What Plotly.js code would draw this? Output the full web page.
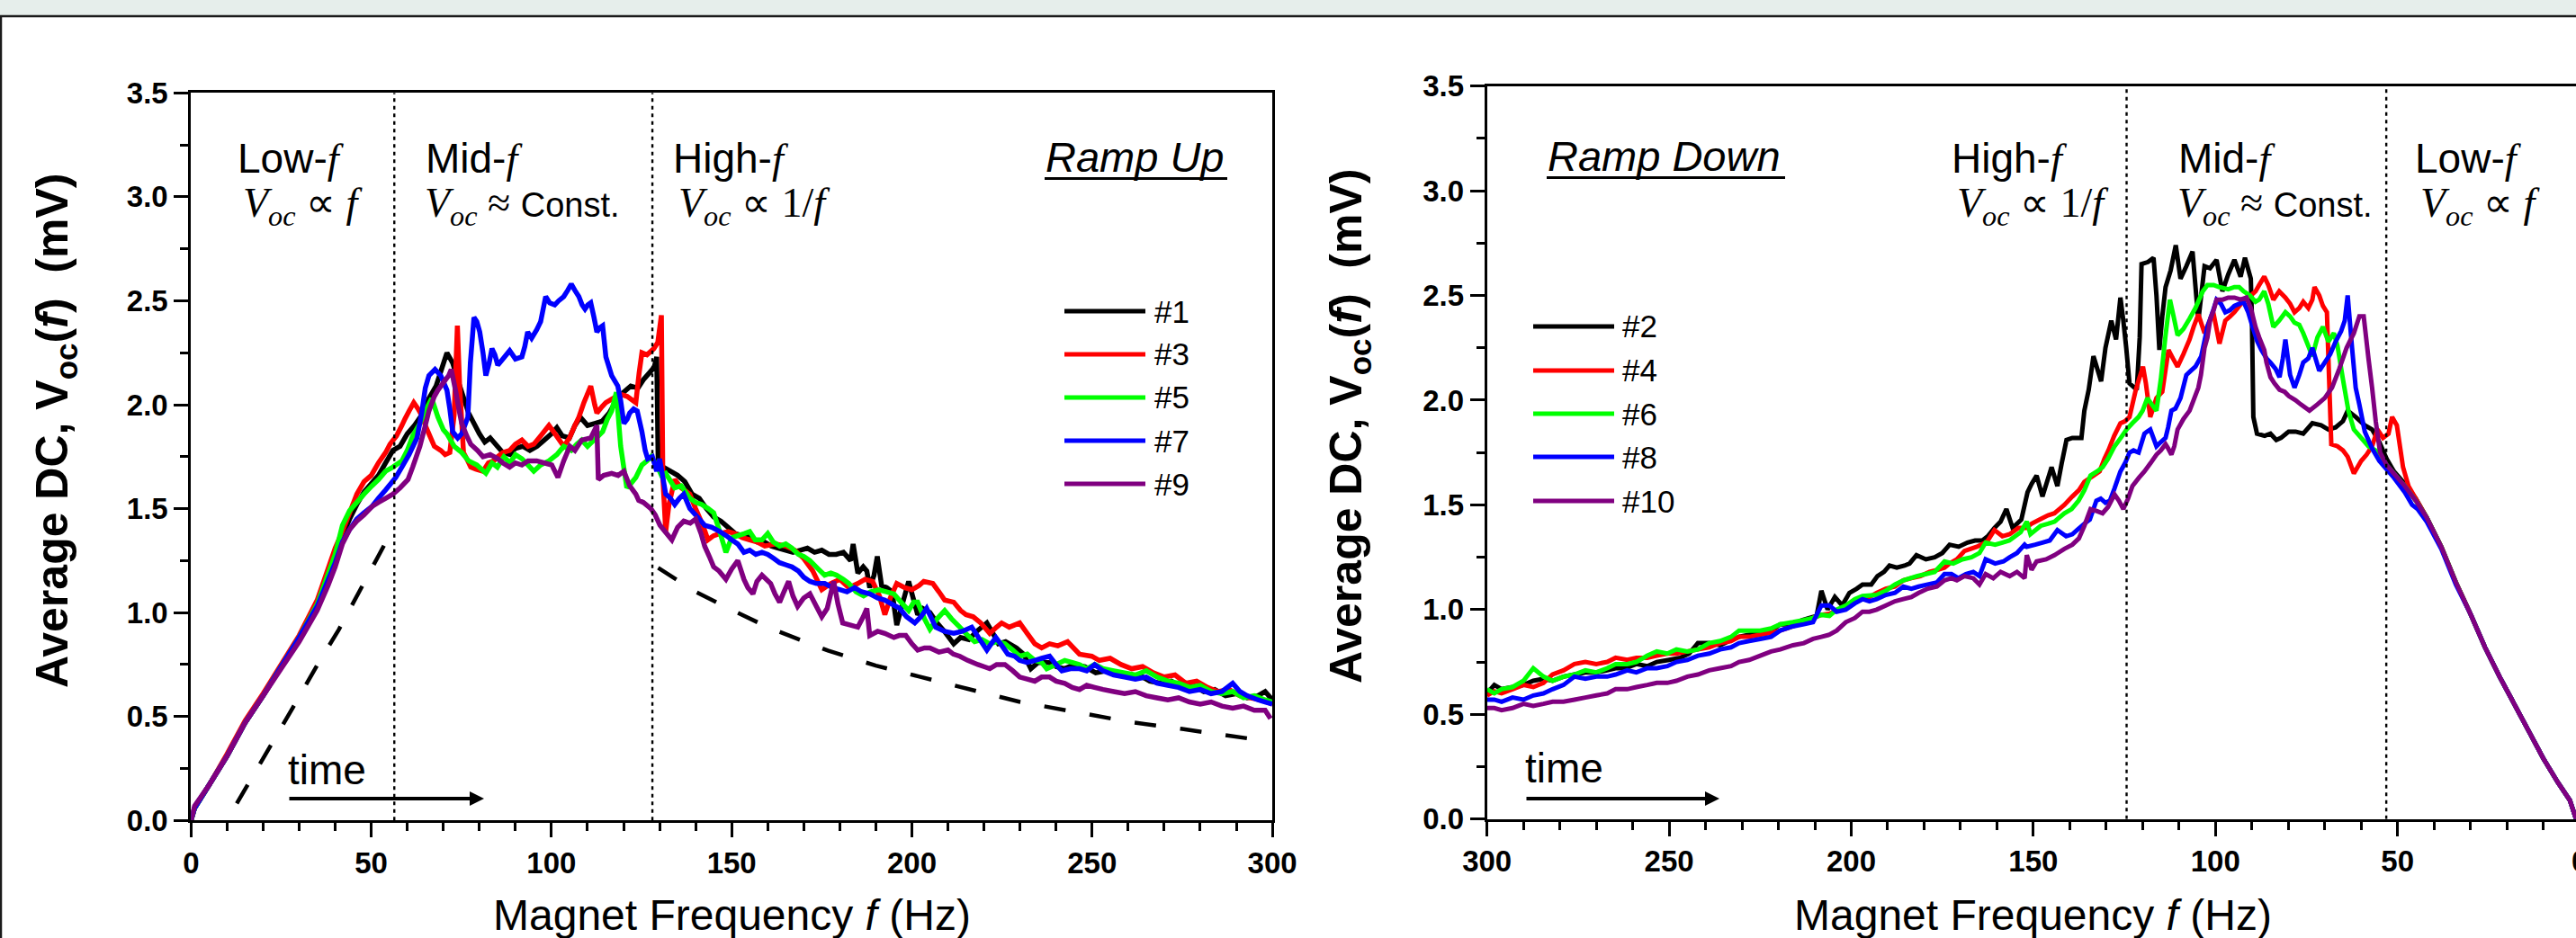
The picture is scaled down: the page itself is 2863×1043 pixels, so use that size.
<!DOCTYPE html>
<html><head><meta charset="utf-8">
<script src="https://cdn.plot.ly/plotly-3.0.1.min.js"></script>
<style>html,body{margin:0;padding:0;background:#fff;overflow:hidden;width:2863px;height:1043px}#chart{width:2880px;height:1043px}</style>
</head><body><div id="chart"></div>
<script>
// ---------------- DATA ----------------
const upNames = ['#1', '#3', '#5', '#7', '#9'];
const downNames = ['#2', '#4', '#6', '#8', '#10'];
const seriesColors = ['#000000', '#ff0000', '#00ff00', '#0000ff', '#800080'];

// Ramp Up: [frequency Hz, Voc mV]
const up1 = [[0,0],[1,0.06],[5,0.17],[10,0.31],[15,0.47],[20,0.6],[25,0.74],[30,0.88],[35,1.04],[40,1.29],[42,1.37],[44,1.45],[46,1.52],[48,1.58],[50,1.62],[52,1.66],[54,1.72],[56,1.78],[58,1.8],[60,1.86],[62,1.9],[64,1.95],[66,2.03],[68,2.09],[69.5,2.17],[71,2.25],[72.6,2.2],[74,2.12],[75.5,2.04],[77,1.96],[78.5,1.91],[80,1.86],[81.5,1.82],[83,1.84],[85,1.8],[86.5,1.77],[88.5,1.76],[90,1.79],[92,1.8],[94,1.78],[96,1.8],[98,1.83],[100,1.86],[101.5,1.89],[103,1.85],[105,1.84],[106.5,1.9],[108,1.94],[110,1.9],[112,1.91],[114,1.92],[116,1.96],[118,2.02],[120,2.06],[122,2.09],[124,2.08],[125.5,2.12],[127,2.15],[128.5,2.18],[129.2,2.23],[129.6,1.73],[131,1.7],[133,1.68],[135,1.66],[137,1.63],[139,1.57],[141,1.55],[143,1.5],[145,1.46],[147,1.44],[149,1.41],[151,1.38],[153,1.37],[155,1.37],[157,1.34],[159,1.34],[161,1.32],[163,1.31],[165,1.3],[167,1.29],[169,1.3],[171,1.31],[173,1.29],[175,1.3],[177,1.28],[179,1.28],[181,1.29],[183,1.25],[183.7,1.33],[185,1.19],[186.5,1.22],[187.5,1.2],[188.3,1.12],[189.5,1.18],[190.4,1.27],[191.6,1.13],[193,1.12],[194.5,1.1],[195.8,0.94],[197.5,1.05],[199.1,1.15],[200.5,1.06],[201.6,0.99],[203,1.02],[205,1],[207,0.95],[209,0.91],[211.6,0.85],[213.5,0.88],[215.8,0.87],[218,0.91],[220.8,0.95],[222.5,0.9],[224,0.85],[226,0.86],[229,0.83],[231,0.8],[233,0.73],[235,0.76],[238,0.76],[240,0.74],[242.4,0.73],[245,0.75],[248,0.74],[251,0.71],[254,0.72],[257,0.7],[260,0.69],[263,0.7],[266,0.67],[269,0.66],[272,0.67],[275,0.64],[278,0.65],[281,0.62],[284,0.63],[287,0.6],[290,0.61],[293,0.59],[296,0.6],[298,0.62],[300,0.58]];
const up3 = [[0,0],[1,0.06],[5,0.17],[10,0.32],[15,0.48],[20,0.61],[25,0.75],[30,0.89],[35,1.06],[40,1.31],[42,1.39],[44,1.48],[46,1.57],[48,1.63],[50,1.66],[52,1.72],[54,1.77],[55.2,1.81],[57,1.85],[58.5,1.9],[59.3,1.93],[60.5,1.97],[61.8,2.01],[63,1.98],[64.3,1.94],[65,1.9],[66,1.86],[67.5,1.8],[69.3,1.78],[70.5,1.76],[71.8,1.77],[73,1.95],[73.9,2.38],[74.5,2.1],[75.6,1.77],[76.5,1.74],[77.6,1.7],[79,1.69],[81,1.68],[82.5,1.72],[84,1.73],[85.1,1.75],[86.5,1.77],[88.4,1.78],[90,1.81],[91.8,1.83],[93.5,1.8],[95.1,1.81],[97,1.85],[99.3,1.9],[101,1.86],[103.4,1.8],[105,1.84],[106.5,1.9],[107.6,1.94],[109,2.01],[110.9,2.09],[112,2],[112.6,1.96],[114,1.99],[115.1,2.01],[117,2.03],[119.2,2.05],[121,2.04],[123.4,2.01],[124.3,2.15],[125.1,2.25],[126.5,2.24],[128.4,2.27],[129.5,2.3],[130.5,2.43],[130.9,1.65],[131.7,1.39],[132.6,1.52],[134.2,1.64],[136,1.6],[138.4,1.57],[140,1.5],[142,1.42],[143.4,1.35],[145,1.37],[146.7,1.38],[149,1.39],[150.9,1.38],[153,1.36],[155,1.35],[157,1.34],[159.2,1.32],[162,1.33],[165,1.32],[167.5,1.3],[170,1.26],[172.5,1.2],[175,1.11],[177.5,1.14],[180,1.16],[182.5,1.12],[185,1.14],[187,1.16],[189.1,1.15],[191,1.08],[192.5,0.99],[194,1.07],[195.8,1.14],[198,1.12],[200,1.11],[202,1.13],[203.3,1.15],[205.8,1.14],[207.5,1.1],[209.1,1.06],[211.6,1.05],[213.5,1.01],[215,0.99],[217,0.98],[219.1,0.95],[221.6,0.9],[223.5,0.93],[224.9,0.95],[227,0.93],[229.9,0.95],[232,0.9],[234.1,0.85],[236,0.83],[238.2,0.85],[240.5,0.84],[243.2,0.86],[246.5,0.8],[249.9,0.79],[252,0.77],[255,0.78],[258,0.75],[261,0.73],[264,0.74],[267,0.71],[270,0.69],[273,0.7],[276,0.66],[279,0.67],[282,0.64],[285,0.62],[288,0.63],[291,0.6],[294,0.59],[297,0.58],[300,0.56]];
const up5 = [[0,0],[1,0.06],[5,0.17],[10,0.31],[15,0.47],[20,0.6],[25,0.74],[30,0.88],[35,1.04],[40,1.28],[42,1.42],[44,1.49],[46,1.53],[48,1.57],[50.2,1.61],[52,1.64],[54,1.68],[56,1.7],[58.5,1.73],[60,1.78],[61.5,1.85],[63.5,1.91],[65,1.97],[66.8,2.03],[68.5,1.94],[70,1.88],[71,1.86],[73,1.8],[75.1,1.77],[77,1.73],[79.3,1.71],[81.8,1.67],[83.5,1.72],[85,1.7],[86.8,1.75],[88.5,1.72],[90,1.76],[91.8,1.74],[93.5,1.71],[95.1,1.68],[97,1.71],[99.3,1.73],[101.5,1.76],[103.4,1.8],[105.5,1.78],[107,1.81],[108.4,1.83],[110,1.8],[111.8,1.83],[113,1.85],[114.2,1.87],[115.5,1.93],[116.7,1.97],[118,2.06],[119.2,1.8],[120.9,1.6],[122,1.62],[123.4,1.65],[125.1,1.71],[126.5,1.73],[127.6,1.75],[129.2,1.71],[130.5,1.66],[131.7,1.67],[134.2,1.6],[136,1.61],[138.4,1.55],[140,1.53],[141.7,1.52],[143.5,1.5],[145,1.48],[146.5,1.4],[148.4,1.29],[150,1.36],[151.7,1.37],[153.5,1.38],[155,1.39],[156.5,1.35],[158.4,1.35],[160,1.38],[161.5,1.34],[163.3,1.32],[165,1.33],[166.7,1.31],[168.5,1.28],[170,1.27],[171.7,1.25],[174,1.21],[175.8,1.18],[177.5,1.19],[179.1,1.18],[181,1.16],[182.5,1.14],[184.5,1.1],[186.6,1.08],[188.5,1.1],[190.8,1.11],[193,1.1],[195,1.09],[197,1.05],[199.1,1.01],[200.5,1.05],[201.6,1.05],[203.5,0.97],[205,0.92],[207,0.97],[209.1,1.01],[211,0.97],[213.3,0.93],[215.5,0.89],[217.4,0.86],[219.5,0.87],[221.6,0.85],[223.5,0.86],[225.8,0.85],[228,0.82],[229.9,0.79],[232,0.8],[234.1,0.77],[236,0.76],[237.4,0.73],[240,0.75],[242.4,0.77],[244.5,0.76],[246.5,0.75],[248.5,0.73],[250.7,0.75],[253,0.73],[256,0.72],[259,0.71],[262,0.7],[265,0.72],[268,0.69],[271,0.67],[274,0.66],[277,0.64],[280,0.65],[283,0.62],[286,0.61],[289,0.62],[292,0.59],[295,0.6],[298,0.58],[300,0.57]];
const up7 = [[0,0],[1,0.06],[5,0.17],[10,0.31],[15,0.47],[20,0.6],[25,0.74],[30,0.88],[35,1.03],[40,1.24],[42,1.34],[44,1.4],[46,1.45],[48,1.48],[50.2,1.51],[52,1.55],[54,1.59],[56.8,1.65],[58.5,1.7],[60.5,1.76],[62.7,1.84],[64,1.96],[65,2.08],[66,2.14],[67.7,2.17],[69.3,2.14],[71,2.07],[71.8,1.98],[72.6,1.87],[74,1.84],[75.1,1.86],[76.8,1.94],[77.5,2.2],[78.5,2.42],[79.3,2.4],[80.1,2.35],[81,2.25],[81.8,2.14],[82.7,2.2],[83.5,2.27],[84.3,2.24],[85.1,2.19],[86.5,2.22],[88.4,2.26],[90,2.22],[91.8,2.23],[92.6,2.28],[93.4,2.35],[94.5,2.32],[95.9,2.36],[97,2.4],[98.4,2.52],[99.5,2.49],[100.9,2.48],[102,2.5],[103.4,2.52],[104.5,2.55],[105.5,2.58],[106.5,2.55],[107.6,2.52],[108.5,2.48],[109.3,2.46],[110.1,2.48],[110.9,2.49],[111.8,2.42],[112.6,2.35],[113.4,2.37],[114.2,2.38],[115.1,2.23],[116.7,2.14],[118.4,2.09],[119.2,2.02],[120.1,1.91],[121,1.93],[121.7,1.96],[122.8,1.98],[123.8,1.97],[125.1,1.87],[126,1.78],[126.7,1.74],[128,1.75],[129.2,1.68],[130,1.74],[131.7,1.57],[133,1.55],[134.2,1.52],[135.5,1.55],[136.7,1.57],[138.4,1.5],[140,1.47],[142.5,1.42],[144.5,1.41],[146.7,1.39],[148.5,1.37],[150,1.35],[151.7,1.33],[153.4,1.29],[155,1.3],[156.7,1.28],[158.4,1.29],[160,1.28],[161.7,1.26],[163.3,1.24],[165,1.23],[166.7,1.22],[168.5,1.2],[170,1.17],[171.7,1.15],[173.5,1.14],[175.8,1.14],[178,1.12],[180,1.11],[182,1.1],[184.1,1.12],[186,1.1],[188.3,1.09],[190.5,1.07],[192.5,1.06],[194.5,1.04],[196.6,1.02],[198.5,0.98],[200.8,0.95],[202.5,0.98],[204.1,1.02],[205.5,0.97],[206.6,0.93],[209,0.91],[211.6,0.9],[214,0.91],[216.6,0.93],[218.5,0.88],[220.8,0.82],[222,0.85],[223.3,0.88],[225,0.84],[226.6,0.8],[228.5,0.79],[229.9,0.77],[232,0.76],[234.1,0.77],[236,0.78],[238.2,0.79],[240,0.75],[241.6,0.72],[244,0.73],[246.5,0.73],[248.5,0.72],[250.7,0.75],[253,0.72],[256,0.7],[259,0.69],[262,0.68],[265,0.69],[268,0.66],[271,0.65],[274,0.64],[277,0.62],[280,0.63],[283,0.61],[286,0.62],[289,0.66],[291,0.62],[293,0.6],[296,0.58],[298,0.57],[300,0.56]];
const up9 = [[0,0],[1,0.07],[5,0.17],[10,0.31],[15,0.47],[20,0.6],[25,0.73],[30,0.86],[35,1.01],[38,1.13],[40,1.22],[42,1.33],[44,1.4],[46,1.44],[48,1.47],[50.2,1.51],[52,1.53],[54,1.55],[56,1.57],[58,1.6],[60.2,1.64],[61.5,1.7],[63.5,1.8],[65,1.9],[66,1.97],[67.5,2.04],[68.5,2.07],[70.6,2.12],[71.5,2.14],[72.2,2.17],[73.5,2.06],[74.3,1.98],[75.1,1.91],[76.5,1.85],[77.6,1.81],[79.5,1.78],[81,1.75],[83,1.76],[85.1,1.74],[86.5,1.72],[88.4,1.7],[90,1.72],[91.8,1.71],[93.5,1.73],[95.9,1.73],[98,1.72],[100.1,1.71],[101.8,1.65],[103.4,1.73],[105.1,1.8],[106.5,1.78],[108.4,1.83],[110.9,1.84],[112.6,1.9],[113,1.64],[114.5,1.66],[116.7,1.67],[118.5,1.66],[120.1,1.68],[121.7,1.61],[123.4,1.57],[124.2,1.54],[125.5,1.53],[127.6,1.5],[128.8,1.47],[130.1,1.42],[131.5,1.39],[133.4,1.35],[135,1.41],[136.7,1.44],[138.5,1.43],[140,1.45],[141.5,1.38],[142.5,1.32],[143.8,1.27],[145,1.22],[146.5,1.2],[148.4,1.16],[150,1.21],[151.7,1.25],[153.4,1.16],[154.5,1.12],[155.9,1.09],[157,1.15],[158.4,1.18],[160.8,1.14],[162,1.09],[163.3,1.05],[164.5,1.1],[165.8,1.15],[167,1.08],[168.3,1.03],[170,1.07],[171.7,1.09],[173.5,1.03],[175,0.98],[176.5,1.02],[178.3,1.15],[179.5,1.04],[180.8,0.95],[183,0.94],[185,0.93],[186.5,0.98],[187.5,1.02],[188.3,0.89],[190.5,0.91],[192.5,0.9],[195,0.88],[196.5,0.89],[198.3,0.89],[200,0.85],[201.6,0.82],[203.5,0.83],[205,0.83],[207.5,0.81],[210,0.82],[211.5,0.8],[213.3,0.79],[215.5,0.77],[218.3,0.75],[220,0.74],[221.6,0.73],[223.5,0.75],[225.8,0.75],[228,0.72],[229.9,0.69],[232,0.68],[234.1,0.67],[236,0.69],[238.2,0.69],[240,0.67],[242.4,0.66],[244.5,0.64],[246.5,0.63],[248.5,0.65],[250.7,0.64],[253,0.63],[256,0.62],[259,0.61],[262,0.62],[265,0.6],[268,0.59],[271,0.58],[274,0.59],[277,0.57],[280,0.56],[283,0.57],[286,0.55],[289,0.54],[292,0.55],[295,0.53],[298,0.53],[299.5,0.49]];

// Ramp Down: [frequency Hz, Voc mV]
const down2 = [[1,0],[2.7,0.09],[6,0.175],[10,0.29],[14,0.42],[18,0.55],[22,0.68],[26,0.82],[30,0.98],[34,1.13],[38,1.3],[42,1.44],[45,1.53],[48,1.6],[51,1.66],[53,1.72],[55,1.8],[57,1.86],[59,1.88],[61.5,1.92],[63.7,1.95],[65,1.9],[67,1.87],[69,1.86],[71,1.88],[73.4,1.89],[75.9,1.84],[78,1.85],[79.9,1.85],[82,1.82],[83.3,1.81],[84.9,1.84],[86.5,1.83],[88.6,1.84],[89.6,1.92],[90,2.4],[90.3,2.58],[91.9,2.68],[93.1,2.59],[94.8,2.67],[96.5,2.6],[98.1,2.52],[99.7,2.67],[101.5,2.63],[103,2.64],[104.7,2.38],[106.3,2.71],[108,2.64],[109.6,2.58],[110.9,2.74],[112.3,2.62],[113.7,2.54],[114.6,2.4],[115.4,2.24],[116.2,2.5],[117,2.68],[118.5,2.66],[120.3,2.65],[120.8,2.3],[121.6,2.05],[123.6,2.08],[124.5,2.25],[125.3,2.38],[126.1,2.49],[127.3,2.29],[128.6,2.38],[130.2,2.25],[131.4,2.09],[133.5,2.21],[134.8,2.05],[136,1.95],[136.8,1.82],[139.3,1.82],[140.9,1.81],[142.2,1.7],[143.4,1.59],[145,1.68],[147.5,1.54],[149.1,1.64],[150.5,1.6],[151.6,1.56],[153.3,1.43],[155.7,1.39],[157.4,1.48],[159,1.42],[160.7,1.39],[162.5,1.35],[164,1.33],[166,1.33],[168.1,1.32],[170.5,1.3],[173,1.31],[175,1.27],[177.1,1.25],[179.5,1.24],[182.1,1.26],[184,1.22],[185.4,1.21],[187.5,1.2],[189.5,1.21],[191,1.18],[192.8,1.16],[194.5,1.12],[196.9,1.12],[198.5,1.1],[200.5,1.08],[202.5,1.02],[204.5,1.06],[206.5,1],[208.2,1.09],[209.5,0.97],[211.5,0.96],[213.5,0.95],[216,0.93],[219.5,0.93],[222,0.9],[225,0.89],[228,0.88],[230.8,0.87],[233.5,0.85],[236,0.83],[239,0.84],[242.1,0.84],[244.5,0.79],[247,0.77],[250,0.76],[253.4,0.75],[256,0.73],[259,0.74],[262,0.72],[264.7,0.72],[267,0.71],[270,0.7],[273,0.7],[276,0.69],[279,0.68],[282,0.66],[284.5,0.67],[287.3,0.66],[290,0.64],[293,0.63],[296,0.62],[298,0.64],[300,0.6]];
const down4 = [[1,0],[2.7,0.09],[6,0.175],[10,0.29],[14,0.42],[18,0.55],[22,0.68],[26,0.82],[30,0.98],[34,1.13],[38,1.3],[42,1.44],[45,1.53],[47,1.59],[48.5,1.68],[50.2,1.88],[51.5,1.92],[52.5,1.84],[54,1.82],[55.5,1.86],[57,1.78],[58.5,1.74],[60,1.71],[61,1.68],[62,1.65],[63.7,1.73],[65,1.76],[66.5,1.78],[68.2,1.79],[68.8,2.1],[69.4,2.42],[70.5,2.45],[71.5,2.5],[72.8,2.54],[73.4,2.48],[74.5,2.44],[75.9,2.47],[77,2.44],[78.3,2.42],[79.5,2.46],[80.8,2.49],[82.5,2.52],[84.1,2.48],[85.5,2.55],[86.6,2.59],[88,2.55],[89,2.52],[90.3,2.5],[91.5,2.49],[93,2.46],[94.8,2.42],[96,2.4],[97.3,2.38],[98.9,2.27],[100.6,2.42],[101.8,2.37],[103,2.32],[104.7,2.41],[106,2.35],[107.1,2.29],[108.8,2.22],[110.4,2.16],[111.7,2.2],[112.9,2.24],[114.6,2.04],[116.2,2.01],[117.9,1.92],[119.1,2.08],[119.9,2.16],[121,2.1],[122,2.04],[123.6,1.92],[124.8,1.9],[126.1,1.89],[127.8,1.83],[129.4,1.76],[130.5,1.72],[131.8,1.66],[133.5,1.64],[136,1.61],[137.5,1.57],[139.3,1.54],[141.5,1.5],[144.2,1.46],[146,1.45],[148.3,1.43],[150.5,1.41],[152,1.39],[154.1,1.39],[156.5,1.36],[158.5,1.35],[160.7,1.38],[162.5,1.33],[163.1,1.32],[165.5,1.3],[168.9,1.28],[171,1.24],[173,1.22],[174.4,1.2],[176.3,1.19],[178.5,1.18],[181,1.16],[183.5,1.15],[185.7,1.14],[188,1.11],[190.5,1.1],[193,1.08],[195,1.06],[196.9,1.05],[199,1.04],[201,1.02],[203.5,1],[206,0.98],[208.2,0.975],[210.5,0.96],[213,0.94],[216,0.92],[219.5,0.9],[222,0.89],[225,0.88],[228,0.87],[230.8,0.87],[233,0.85],[236,0.84],[239,0.82],[242.1,0.81],[245,0.8],[248,0.79],[250.5,0.79],[253.4,0.78],[256,0.77],[259,0.77],[261.5,0.76],[264.7,0.77],[267,0.75],[270,0.74],[273,0.75],[276,0.74],[279,0.71],[282,0.69],[284.5,0.65],[287.3,0.63],[290,0.64],[293,0.62],[296,0.6],[298,0.61],[300,0.59]];
const down6 = [[1,0],[2.7,0.09],[6,0.175],[10,0.29],[14,0.42],[18,0.55],[22,0.68],[26,0.82],[30,0.98],[34,1.13],[38,1.3],[42,1.44],[45,1.52],[48,1.59],[51,1.65],[53,1.69],[54.5,1.73],[56,1.76],[58,1.78],[60,1.82],[62,1.86],[63.5,1.95],[65,2.1],[66.5,2.26],[67.5,2.32],[69,2.28],[70.5,2.35],[72,2.3],[73.4,2.21],[75.9,2.32],[77,2.36],[78.3,2.37],[79.5,2.4],[80.8,2.42],[82.5,2.38],[84.1,2.35],[85.5,2.46],[86.6,2.52],[88,2.48],[89,2.47],[90.5,2.5],[92.3,2.52],[93.5,2.54],[94.8,2.54],[96.5,2.53],[98.9,2.54],[100.5,2.55],[102.2,2.55],[103.5,2.52],[105.5,2.44],[107.1,2.39],[108.8,2.34],[110.4,2.31],[111.5,2.4],[112.5,2.48],[113.7,2.31],[115,2.1],[116.2,1.95],[117.5,1.98],[118.7,2.01],[120,1.95],[121.1,1.92],[122.8,1.89],[124.4,1.86],[126,1.82],[127.7,1.78],[129.5,1.72],[131,1.68],[132.5,1.66],[134.3,1.64],[136,1.57],[137.6,1.52],[139.5,1.48],[141.5,1.46],[144.2,1.42],[146,1.41],[148,1.4],[150.8,1.36],[151.8,1.42],[153.5,1.37],[156.6,1.33],[158.5,1.32],[160.5,1.31],[163.1,1.32],[164.8,1.27],[167,1.25],[169.5,1.24],[172,1.22],[174.4,1.23],[177.1,1.18],[179.5,1.17],[182,1.16],[185.7,1.14],[188,1.12],[190.5,1.09],[193,1.07],[196.9,1.065],[199,1.05],[201.5,1.02],[204,1],[206,0.97],[208.2,0.975],[210.5,0.96],[213,0.95],[216,0.94],[219.5,0.93],[222,0.91],[225,0.9],[228,0.9],[230.8,0.9],[233,0.87],[236,0.85],[239,0.84],[242.1,0.81],[245,0.8],[248,0.81],[250.5,0.79],[253.4,0.8],[256,0.78],[259,0.75],[261.5,0.74],[264.7,0.74],[267,0.72],[270,0.7],[273,0.71],[276,0.69],[279,0.68],[282,0.66],[284.5,0.68],[287.3,0.72],[290,0.66],[293,0.63],[296,0.62],[298,0.6],[300,0.62]];
const down8 = [[1,0],[2.7,0.09],[6,0.175],[10,0.29],[14,0.42],[18,0.55],[22,0.68],[26,0.82],[30,0.98],[34,1.12],[38,1.29],[42,1.42],[44.5,1.48],[46,1.5],[48,1.56],[51,1.63],[53,1.67],[55,1.71],[57,1.77],[59,1.85],[60.5,1.98],[61.5,2.06],[62.5,2.25],[63.7,2.5],[64.5,2.38],[65.5,2.33],[67,2.28],[68.5,2.22],[70,2.18],[71.5,2.14],[73.4,2.25],[74.5,2.2],[75.9,2.18],[77,2.12],[78.3,2.06],[79.5,2.12],[80.8,2.29],[81.5,2.2],[82.4,2.11],[83.5,2.15],[84.9,2.18],[86,2.2],[87.4,2.24],[88.5,2.28],[89.8,2.35],[91,2.42],[92.3,2.47],[93.5,2.46],[94.8,2.45],[96,2.43],[97.3,2.42],[98.5,2.46],[99.7,2.48],[100.8,2.42],[102.2,2.35],[103.9,2.21],[105.5,2.16],[106.8,2.14],[108,2.12],[109.6,2.01],[111,1.96],[112.1,1.95],[113,1.87],[113.7,1.82],[115,1.8],[116.2,1.78],[117.9,1.86],[118.8,1.85],[119.5,1.84],[121.1,1.75],[122.5,1.76],[123.6,1.75],[124.8,1.7],[126.1,1.66],[127.7,1.58],[129,1.52],[130.2,1.51],[131.5,1.53],[132.7,1.52],[134.5,1.43],[136,1.41],[138,1.38],[139.3,1.36],[141,1.35],[143.4,1.38],[145.5,1.33],[147.5,1.32],[149.5,1.31],[151.8,1.3],[152.4,1.31],[154.5,1.27],[156.5,1.25],[158.2,1.23],[160.5,1.22],[163.1,1.24],[164.8,1.16],[166.5,1.18],[168.5,1.17],[170.6,1.15],[172.5,1.17],[174.4,1.17],[176.5,1.13],[179,1.12],[181.5,1.11],[183.5,1.1],[185.7,1.11],[188,1.08],[190.5,1.07],[193,1.05],[195,1.04],[196.9,1.05],[199,1.03],[201.5,1],[204,0.99],[206,1.02],[208.2,1.02],[210.5,0.94],[213,0.93],[216,0.92],[219.5,0.9],[222,0.87],[225,0.86],[228,0.85],[230.8,0.84],[233,0.82],[236,0.81],[239,0.79],[242.1,0.78],[245,0.76],[248,0.75],[250.5,0.73],[253.4,0.72],[256,0.72],[259,0.7],[261.5,0.71],[264.7,0.69],[267,0.68],[270,0.68],[273,0.67],[276,0.68],[279,0.64],[282,0.62],[284.5,0.6],[287.3,0.59],[290,0.57],[293,0.58],[296,0.56],[298,0.57],[300,0.57]];
const down10 = [[1,0],[2.7,0.09],[6,0.175],[10,0.29],[14,0.42],[18,0.55],[22,0.68],[26,0.82],[30,0.98],[34,1.13],[38,1.3],[42,1.44],[45,1.52],[48,1.59],[51,1.65],[53,1.69],[54.8,1.75],[56,1.9],[57,2.06],[58,2.2],[59.3,2.4],[60.5,2.4],[62,2.32],[64,2.25],[66,2.15],[68,2.06],[70,2.01],[72,1.98],[74.2,1.95],[76.6,1.98],[78,2],[79.9,2.02],[81,2.04],[82.4,2.05],[83.8,2.08],[84.9,2.11],[86,2.18],[86.6,2.24],[88,2.3],[89,2.35],[90.3,2.44],[91.5,2.49],[93.1,2.48],[94.8,2.49],[96.5,2.49],[98,2.48],[99.7,2.48],[100.5,2.43],[101.4,2.39],[102.2,2.3],[103,2.25],[104,2.12],[104.7,2.06],[106,2],[107.1,1.95],[108.8,1.91],[110.4,1.86],[111.3,1.78],[112.1,1.74],[113,1.77],[113.7,1.79],[115,1.76],[116.2,1.74],[117.8,1.7],[119.5,1.66],[121,1.63],[122.8,1.59],[124,1.53],[125.3,1.48],[126.5,1.52],[127.7,1.55],[129.5,1.49],[131,1.46],[132.5,1.47],[134.3,1.48],[136,1.4],[137.5,1.34],[139.3,1.31],[141.5,1.29],[144.2,1.26],[146.5,1.24],[149.1,1.23],[150.5,1.19],[151.8,1.26],[152.4,1.15],[154.5,1.18],[156.5,1.16],[159,1.18],[161,1.15],[163.1,1.17],[164.8,1.12],[166.5,1.15],[168.9,1.16],[171,1.14],[172.5,1.15],[174.4,1.14],[176.5,1.11],[179,1.1],[181.5,1.08],[183.5,1.06],[185.7,1.05],[188,1.04],[190.5,1.02],[193,1],[195,0.99],[196.9,0.99],[199,0.96],[201.5,0.94],[204,0.9],[206,0.88],[208.2,0.87],[210.5,0.86],[213,0.84],[216,0.83],[219.5,0.81],[222,0.8],[225,0.78],[228,0.76],[230.8,0.75],[233,0.73],[236,0.72],[239,0.71],[242.1,0.69],[245,0.68],[248,0.66],[250.5,0.65],[253.4,0.65],[256,0.64],[259,0.63],[261.5,0.62],[264.7,0.62],[267,0.6],[270,0.59],[273,0.58],[276,0.57],[279,0.56],[282,0.56],[284.5,0.55],[287.3,0.54],[290,0.55],[293,0.53],[296,0.52],[298,0.53],[300,0.53]];

// Guide curves on Ramp Up panel (dashed)
const guideLow = [[12.7,0.082],[22.3,0.364],[29,0.565],[35.2,0.753],[41,0.918],[54.4,1.35]];
const guideHigh = [[129.6,1.215],[140,1.1],[150,1.013],[160,0.93],[176.7,0.817],[190,0.745],[201.6,0.694],[217.4,0.623],[230,0.57],[245.7,0.521],[260,0.475],[275,0.44],[290,0.4],[298,0.383]];

// Region boundaries (Hz)
const boundsUp = [56.4, 128.0];
const boundsDown = [124.4, 53.1];

const xTicks = [0, 50, 100, 150, 200, 250, 300];
const yTicks = [0, 0.5, 1.0, 1.5, 2.0, 2.5, 3.0, 3.5];

// ---------------- LAYOUT ----------------
const W = 2880, H = 1043;
const FONT = 'Liberation Sans, Arial, Helvetica, sans-serif';
const SERIF = 'Liberation Serif';
const px = v => v / W;
const py = v => 1 - v / H;

const upSeries = [up1, up3, up5, up7, up9];
const downSeries = [down2, down4, down6, down8, down10];

const traces = [];
upSeries.forEach((s, i) => traces.push({
  type: 'scatter', mode: 'lines', x: s.map(p => p[0]), y: s.map(p => p[1]),
  xaxis: 'x', yaxis: 'y', name: upNames[i],
  line: {color: seriesColors[i], width: 5.5, simplify: false}, showlegend: false, hoverinfo: 'skip'
}));
[guideLow, guideHigh].forEach(s => traces.push({
  type: 'scatter', mode: 'lines', x: s.map(p => p[0]), y: s.map(p => p[1]),
  xaxis: 'x', yaxis: 'y', line: {color: '#000', width: 4.5, dash: '24px,27px'},
  showlegend: false, hoverinfo: 'skip'
}));
downSeries.forEach((s, i) => traces.push({
  type: 'scatter', mode: 'lines', x: s.map(p => p[0]), y: s.map(p => p[1]),
  xaxis: 'x2', yaxis: 'y2', name: downNames[i],
  line: {color: seriesColors[i], width: 5, simplify: false}, showlegend: false, hoverinfo: 'skip'
}));

const axisBase = {
  showline: true, linecolor: '#000', linewidth: 3, mirror: true,
  ticks: 'outside', ticklen: 16, tickwidth: 3, tickcolor: '#000',
  tickfont: {family: FONT, size: 33, color: '#000', weight: 'bold'},
  showgrid: false, zeroline: false, fixedrange: true
};
const xMinor = {dtick: 10, ticklen: 9, tickwidth: 3, tickcolor: '#000', ticks: 'outside'};
const yMinor = {dtick: 0.25, ticklen: 9, tickwidth: 3, tickcolor: '#000', ticks: 'outside'};

const shapes = [
  {type: 'rect', xref: 'paper', yref: 'paper', x0: 0, x1: 1, y0: py(17.5), y1: 1, fillcolor: '#e6eeeb', line: {width: 0}, layer: 'below'},
  {type: 'line', xref: 'paper', yref: 'paper', x0: 0, x1: 1, y0: py(18), y1: py(18), line: {color: '#1a1a1a', width: 2.5}},
  {type: 'line', xref: 'paper', yref: 'paper', x0: px(1), x1: px(1), y0: 0, y1: py(18), line: {color: '#1a1a1a', width: 2.5}}
];
boundsUp.forEach(b => shapes.push({type: 'line', xref: 'x', yref: 'y', x0: b, x1: b, y0: 0, y1: 3.5, line: {color: '#000', width: 2.4, dash: '4px,4.5px'}}));
boundsDown.forEach(b => shapes.push({type: 'line', xref: 'x2', yref: 'y2', x0: b, x1: b, y0: 0, y1: 3.5, line: {color: '#000', width: 2.4, dash: '4px,4.5px'}}));

// underlines of "Ramp Up" / "Ramp Down"
shapes.push({type: 'line', xref: 'paper', yref: 'paper', x0: px(1161), x1: px(1364), y0: py(198.5), y1: py(198.5), line: {color: '#000', width: 3.2}});
shapes.push({type: 'line', xref: 'paper', yref: 'paper', x0: px(1719), x1: px(1984), y0: py(197.5), y1: py(197.5), line: {color: '#000', width: 3.2}});

const annotations = [];
function txt(x, y, text, size, extra) {
  annotations.push(Object.assign({
    xref: 'paper', yref: 'paper', x: px(x), y: py(y), text: text, showarrow: false,
    xanchor: 'left', yanchor: 'middle', font: {family: FONT, size: size, color: '#000'}
  }, extra || {}));
}
// legends (drawn manually)
function legend(x0, x1, tx, rows, names) {
  rows.forEach((ry, i) => {
    shapes.push({type: 'line', xref: 'paper', yref: 'paper', x0: px(x0), x1: px(x1), y0: py(ry), y1: py(ry), line: {color: seriesColors[i], width: 4.8}});
    txt(tx, ry, names[i], 35);
  });
}
legend(1183, 1273, 1281, [346, 394, 442, 490, 538], upNames);
legend(1704, 1794, 1801, [363, 412, 460, 508, 557], downNames);

const sf = t => '<span style="font-family:' + SERIF + ';font-size:46px">' + t + '</span>';
const lowF = 'Low-' + sf('<i>f</i>');
const midF = 'Mid-' + sf('<i>f</i>');
const highF = 'High-' + sf('<i>f</i>');
const vLow = sf('<i>V</i><sub><i>oc</i></sub> ∝ <i>f</i>');
const vMid = sf('<i>V</i><sub><i>oc</i></sub> ≈ ') + 'Const.';
const vHigh = sf('<i>V</i><sub><i>oc</i></sub> ∝ 1/<i>f</i>');

// Ramp Up panel texts
txt(262, 176, lowF, 46);
txt(268, 229, vLow, 38);
txt(471, 176, midF, 46);
txt(470, 229, vMid, 38);
txt(746, 176, highF, 46);
txt(752, 229, vHigh, 38);
txt(1160, 175, '<i>Ramp Up</i>', 47);
txt(318, 856, 'time', 46);
// Ramp Down panel texts
txt(1718, 174, '<i>Ramp Down</i>', 47);
txt(2167, 176, highF, 46);
txt(2173, 229, vHigh, 38);
txt(2419, 176, midF, 46);
txt(2418, 229, vMid, 38);
txt(2682, 176, lowF, 46);
txt(2688, 229, vLow, 38);
txt(1693, 854, 'time', 46);

// time arrows
[[320, 538], [1695, 1911]].forEach(a => annotations.push({
  xref: 'paper', yref: 'paper', x: px(a[1]), y: py(888), ax: a[0] - a[1], ay: 0,
  text: '', showarrow: true, arrowhead: 2, arrowsize: 0.8, arrowwidth: 4, arrowcolor: '#000',
  standoff: 0, startstandoff: 0
}));

// axis titles
const xTitle = 'Magnet Frequency <i>f</i> (Hz)';
const yTitle = 'Average DC, V<sub>oc</sub>(<i>f</i>)  (mV)';
annotations.push({xref: 'paper', yref: 'paper', x: px(813.3), y: py(1017), text: xTitle, showarrow: false, xanchor: 'center', yanchor: 'middle', font: {family: FONT, size: 48, color: '#000'}});
annotations.push({xref: 'paper', yref: 'paper', x: px(2259.9), y: py(1017), text: xTitle, showarrow: false, xanchor: 'center', yanchor: 'middle', font: {family: FONT, size: 48, color: '#000'}});
annotations.push({xref: 'paper', yref: 'paper', x: px(61), y: py(479), text: yTitle, showarrow: false, textangle: -90, xanchor: 'center', yanchor: 'middle', font: {family: FONT, size: 50, color: '#000', weight: 'bold'}});
annotations.push({xref: 'paper', yref: 'paper', x: px(1499), y: py(474), text: yTitle, showarrow: false, textangle: -90, xanchor: 'center', yanchor: 'middle', font: {family: FONT, size: 50, color: '#000', weight: 'bold'}});

const layout = {
  width: W, height: H, margin: {l: 0, r: 0, t: 0, b: 0, pad: 0},
  paper_bgcolor: '#ffffff', plot_bgcolor: 'rgba(0,0,0,0)', showlegend: false, hovermode: false,
  xaxis: Object.assign({}, axisBase, {domain: [px(212.3), px(1414.1)], range: [0, 300], tickvals: xTicks, ticktext: xTicks.map(String), minor: xMinor, anchor: 'y'}),
  yaxis: Object.assign({}, axisBase, {domain: [py(912.3), py(103.3)], range: [0, 3.5], tickvals: yTicks, ticktext: yTicks.map(v => v.toFixed(1)), minor: yMinor, anchor: 'x'}),
  xaxis2: Object.assign({}, axisBase, {domain: [px(1652.7), px(2867.1)], range: [300, 0], tickvals: xTicks, ticktext: xTicks.map(String), minor: xMinor, anchor: 'y2'}),
  yaxis2: Object.assign({}, axisBase, {domain: [py(910.7), py(95.7)], range: [0, 3.5], tickvals: yTicks, ticktext: yTicks.map(v => v.toFixed(1)), minor: yMinor, anchor: 'x2'}),
  shapes: shapes, annotations: annotations
};

Plotly.newPlot('chart', traces, layout, {staticPlot: true, displayModeBar: false});
</script>
</body></html>
